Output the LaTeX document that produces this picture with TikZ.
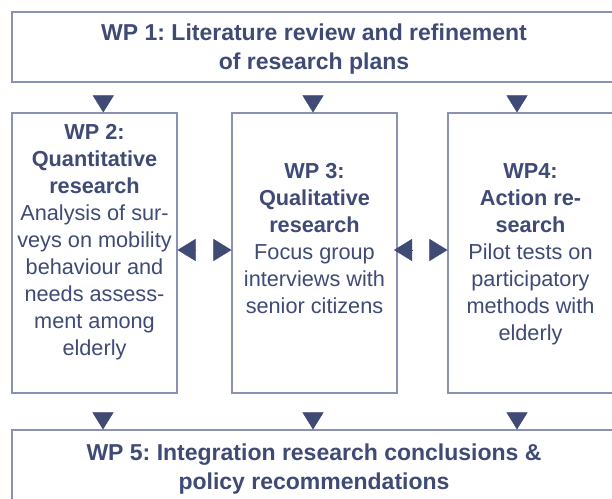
\documentclass[tikz,border=0pt]{standalone}
\usepackage{fontspec}
\setmainfont{Liberation Sans}
\usetikzlibrary{calc,arrows.meta}
\definecolor{ink}{HTML}{3F4A75}
\definecolor{frame}{HTML}{8A91B2}
\frenchspacing
\begin{document}
\begin{tikzpicture}[x=1pt,y=1pt,
  box/.style={draw=frame, line width=1.1pt, inner sep=0pt, minimum width=165pt, minimum height=280pt},
  wide/.style={draw=frame, line width=1.1pt, inner sep=0pt, minimum width=604pt},
  title/.style={text=ink, align=center, inner sep=0pt, font=\fontsize{23}{29}\selectfont\bfseries},
  body/.style={text=ink, align=center, inner sep=0pt, font=\fontsize{21.7}{27}\selectfont},
  varrow/.style={draw=ink, line width=0.4pt, -{Triangle[length=17pt,width=21pt]}},
  harrow/.style={draw=ink, line width=0.4pt, -{Triangle[length=18pt,width=22pt]}, shorten <=-0.5pt}
]
\fill[white] (0,0) rectangle (612,498);
\useasboundingbox (0,0) rectangle (612,498);

% boxes
\node[wide, minimum height=70pt] (wp1) at (314,451) {};
\node[box] (wp2) at (94.5,245) {};
\node[box] (wp3) at (314.5,245) {};
\node[box] (wp4) at (530.5,245) {};
\node[wide, minimum height=80pt] (wp5) at (314,28) {};

% texts
\node[title] (wp1t) at (314,449.2) {\frenchspacing WP 1: Literature review and refinement\\of research plans};
\node[body] (wp2t) at (94.5,255.5) {\textbf{WP 2:}\\\textbf{Quantitative}\\\textbf{research}\\Analysis of sur-\\veys on mobility\\behaviour and\\needs assess-\\ment among\\elderly};
\node[body] (wp3t) at (314.5,259.4) {\textbf{WP 3:}\\\textbf{Qualitative}\\\textbf{research}\\Focus group\\interviews with\\senior citizens};
\node[body] (wp4t) at (530.5,243.5) {\textbf{WP4:}\\\textbf{Action re-}\\\textbf{search}\\Pilot tests on\\participatory\\methods with\\elderly};
\node[title] (wp5t) at (314,29.2) {\frenchspacing WP 5: Integration research conclusions \&\\policy recommendations};

% arrow tips (down)
\coordinate (a2) at ($(wp2.north)+(8.8,0)$);
\coordinate (a3) at ($(wp3.north)+(-1.5,0)$);
\coordinate (a4) at ($(wp4.north)+(-13.5,0)$);
\coordinate (b2) at ($(wp5.north)+(-211,0)$);
\coordinate (b3) at ($(wp5.north)+(-1,0)$);
\coordinate (b4) at ($(wp5.north)+(203,0)$);
\foreach \t in {a2,a3,a4}{
  \draw[varrow, shorten <=14pt] (wp1.south -| \t) -- (\t);
}
\draw[varrow, shorten <=20pt] (wp2.south -| b2) -- (b2);
\draw[varrow, shorten <=20pt] (wp3.south -| b3) -- (b3);
\draw[varrow, shorten <=20pt] (wp4.south -| b4) -- (b4);

% horizontal arrow pairs
\coordinate (m1) at (204.5,248);
\coordinate (m2) at (420.5,248);
\coordinate (e3) at (394,248);
\draw[harrow, shorten <=9.5pt] (m1) -- (m1 -| wp2.east);
\draw[harrow, shorten <=9.5pt] (m1) -- (m1 -| wp3.west);
\draw[harrow, shorten <=8.5pt] (m2) -- (e3);
\draw[harrow, shorten <=9.5pt] (m2) -- (m2 -| wp4.west);
\end{tikzpicture}
\end{document}
